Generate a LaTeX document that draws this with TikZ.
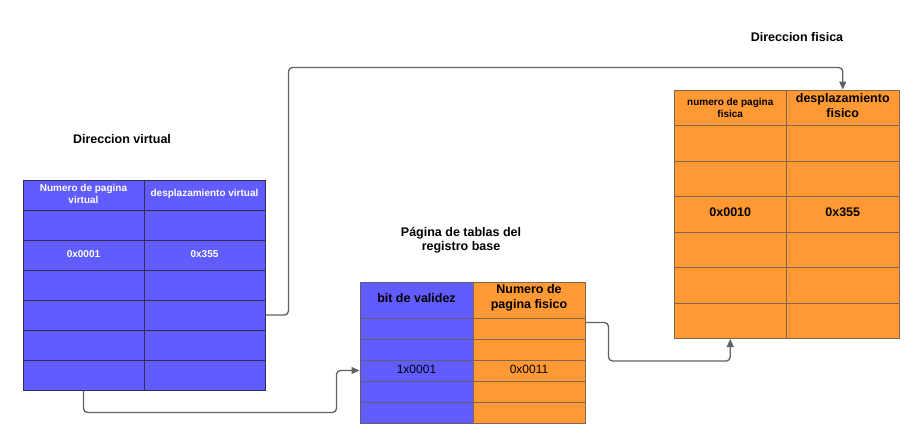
\documentclass[tikz,border=0pt]{standalone}
\usepackage{fontspec}
\setmainfont{Liberation Sans}
\usetikzlibrary{arrows.meta}
\definecolor{vblue}{HTML}{605CFF}
\definecolor{vorange}{HTML}{FF9933}
\definecolor{lborder}{HTML}{2E2E55}
\definecolor{mborder}{HTML}{5E5E78}
\definecolor{oborder}{HTML}{80664D}
\definecolor{conncol}{HTML}{616161}
\tikzset{
  cellbase/.style={draw, line width=1pt, inner sep=0pt, anchor=north west},
  lcell/.style={cellbase, fill=vblue, draw=lborder, minimum width=121pt, minimum height=30pt},
  mbcell/.style={cellbase, fill=vblue, draw=mborder, minimum width=113pt, minimum height=#1},
  mocell/.style={cellbase, fill=vorange, draw=oborder, minimum width=112pt, minimum height=#1},
  rcell/.style={cellbase, fill=vorange, draw=oborder, minimum width=112.5pt, minimum height=35.5pt},
  txt/.style={inner sep=0pt, align=center, font=\bfseries\fontsize{12.5}{15}\selectfont},
  wtxt/.style={inner sep=0pt, align=center, text=white, font=\bfseries\fontsize{10}{12.3}\selectfont},
  conn/.style={draw=conncol, line width=1.3pt, rounded corners=4pt, -{Triangle[length=8pt,width=7pt]}}
}
\begin{document}
\begin{tikzpicture}[x=1pt,y=-1pt]
\useasboundingbox (0,0) rectangle (921,445);

% left table
\foreach \r in {1,...,7}{
  \foreach \c in {1,2}{
    \node[lcell] (L\r\c) at ({22.5+121*(\c-1)},{179.5+30*(\r-1)}) {};
  }
}
% middle table
\node[mbcell=36pt] (M11) at (359.5,281.5) {};
\node[mocell=36pt] (M12) at (472.5,281.5) {};
\foreach \r in {2,...,6}{
  \node[mbcell=21pt] (M\r1) at (359.5,{317.5+21*(\r-2)}) {};
  \node[mocell=21pt] (M\r2) at (472.5,{317.5+21*(\r-2)}) {};
}
% right table
\foreach \r in {1,...,7}{
  \foreach \c in {1,2}{
    \node[rcell] (R\r\c) at ({673.5+112.5*(\c-1)},{89.5+35.5*(\r-1)}) {};
  }
}

% titles
\node[txt] (tv) at (122,139) {Direccion virtual};
\node[txt] (tf) at (797,37) {Direccion fisica};
\node[txt, font=\bfseries\fontsize{12.5}{14.5}\selectfont] (tm) at (461,240) {Página de tablas del\\registro base};

% left texts
\node[wtxt] (tL11) at ([yshift=1pt]L11.center) {Numero de pagina\\virtual};
\node[wtxt] (tL12) at ([yshift=1pt]L12.center) {desplazamiento virtual};
\node[wtxt] (tL31) at ([yshift=1pt]L31.center) {0x0001};
\node[wtxt] (tL32) at ([yshift=1pt]L32.center) {0x355};

% middle texts
\node[txt] (tM11) at ([yshift=1.5pt]M11.center) {bit de validez};
\node[txt] (tM12) at ([yshift=2pt]M12.center) {Numero de\\pagina fisico};
\node[txt, font=\fontsize{12}{14}\selectfont] (tM41) at ([yshift=1.5pt]M41.center) {1x0001};
\node[txt, font=\fontsize{12}{14}\selectfont] (tM42) at ([yshift=1.5pt]M42.center) {0x0011};

% right texts
\node[txt, font=\bfseries\fontsize{10}{11.7}\selectfont] (tR11) at (R11.center) {numero de pagina\\fisica};
\node[txt] (tR12) at ([yshift=2pt]R12.center) {desplazamiento\\fisico};
\node[txt] (tR41) at ([yshift=2pt]R41.center) {0x0010};
\node[txt] (tR42) at ([yshift=2pt]R42.center) {0x355};

% connectors
\draw[conn] (L52.east) -- ++(23,0) |- ([yshift=22pt]R12.north) -- (R12.north);
\draw[conn] (L71.south) -- ++(0,22) -| ([xshift=-23pt]M41.west) -- (M41.west);
\draw[conn] ([yshift=6pt]M22.east) -- ++(23,0) |- ([yshift=-22pt]R71.south) -- (R71.south);
\end{tikzpicture}
\end{document}
